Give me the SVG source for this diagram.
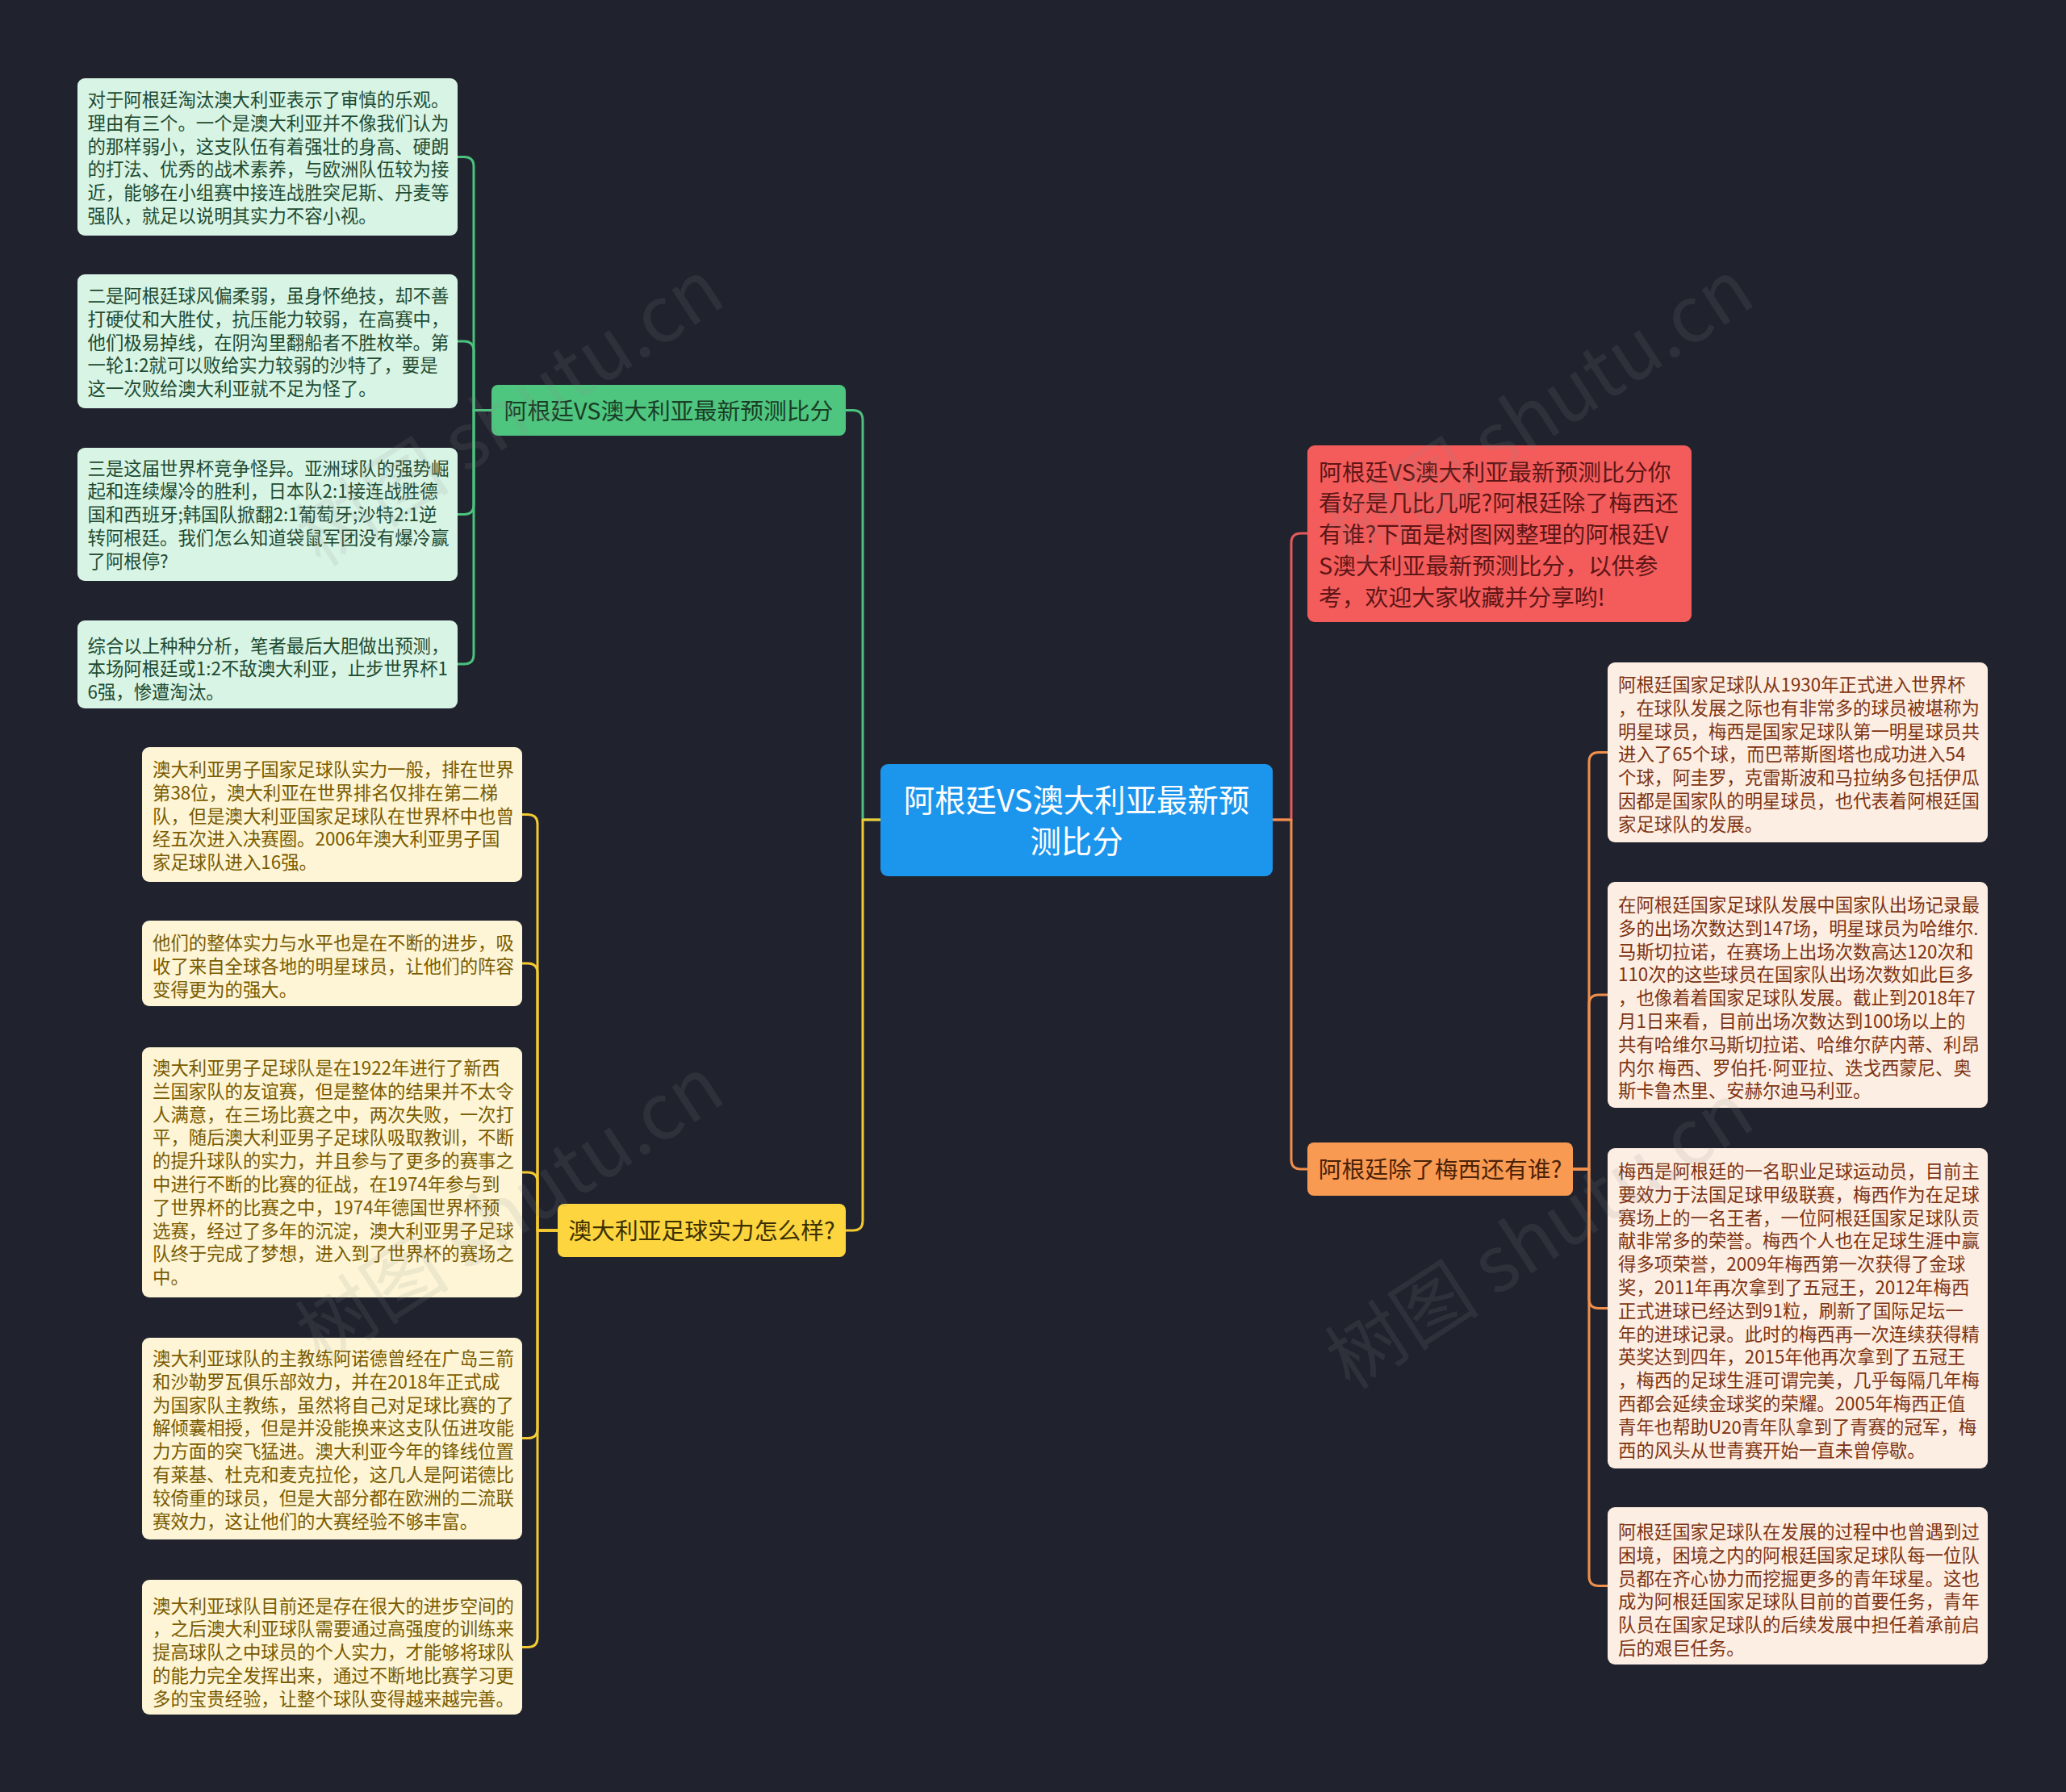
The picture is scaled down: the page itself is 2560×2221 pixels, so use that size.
<svg xmlns="http://www.w3.org/2000/svg" width="2560" height="2221" viewBox="0 0 2560 2221">
<style>
text{font-family:"Noto Sans CJK SC","Noto Sans",sans-serif}
.leaf{font-size:22.4px}
.g{fill:#d8f4e5}.gt{fill:#1e4b31}
.y{fill:#fdf5d6}.yt{fill:#7a5b00}
.o{fill:#fdeee3}.ot{fill:#7d3412}
.c{fill:none;stroke-width:3;stroke-linecap:round;stroke-linejoin:round}
.lbl{font-size:28.8px;text-anchor:middle}
.lat{font-family:"Liberation Sans",sans-serif}
.wm{font-size:96px;fill:#8c8c8c;opacity:0.13;font-family:"Noto Sans CJK SC","Noto Sans",sans-serif}
</style>
<rect width="2560" height="2221" fill="#20232e"/>

<g id="connectors">
<path class="c" stroke="#4cc27e" d="M1091 1016 H1069 V520.5 Q1069 508.5 1057 508.5 H1048"/>
<path class="c" stroke="#f5c932" d="M1091 1016 H1069 V1513 Q1069 1525 1057 1525 H1048"/>
<path class="c" stroke="#e35a5a" d="M1577 1016 H1600 V673 Q1600 661 1612 661 H1620"/>
<path class="c" stroke="#f0904c" d="M1577 1016 H1600 V1437 Q1600 1449 1612 1449 H1620"/>
<g stroke="#4cc27e">
<path class="c" d="M609 508.5 H587 V206.5 Q587 194.5 575 194.5 H567"/>
<path class="c" d="M609 508.5 H587 V435 Q587 423 575 423 H567"/>
<path class="c" d="M609 508.5 H587 V625.5 Q587 637.5 575 637.5 H567"/>
<path class="c" d="M609 508.5 H587 V811 Q587 823 575 823 H567"/>
</g>
<g stroke="#f5c932">
<path class="c" d="M691 1525 H666 V1021.5 Q666 1009.5 654 1009.5 H647"/>
<path class="c" d="M691 1525 H666 V1206 Q666 1194 654 1194 H647"/>
<path class="c" d="M691 1525 H666 V1465 Q666 1453 654 1453 H647"/>
<path class="c" d="M691 1525 H666 V1770.5 Q666 1782.5 654 1782.5 H647"/>
<path class="c" d="M691 1525 H666 V2029.5 Q666 2041.5 654 2041.5 H647"/>
</g>
<g stroke="#f0904c">
<path class="c" d="M1949 1449 H1969 V944.5 Q1969 932.5 1981 932.5 H1992"/>
<path class="c" d="M1949 1449 H1969 V1245 Q1969 1233 1981 1233 H1992"/>
<path class="c" d="M1949 1449 H1969 V1609.5 Q1969 1621.5 1981 1621.5 H1992"/>
<path class="c" d="M1949 1449 H1969 V1953.5 Q1969 1965.5 1981 1965.5 H1992"/>
</g>
</g>

<g id="center">
<rect x="1091" y="947" width="486" height="139" rx="9" fill="#1c95ed"/>
<text font-size="38.4" fill="#ffffff" text-anchor="middle"><tspan x="1334" y="1005.5">阿根廷VS澳大利亚最新预</tspan><tspan x="1334" y="1056.5">测比分</tspan></text>
</g>

<g id="intro">
<rect x="1620" y="552" width="476" height="219" rx="9" fill="#f45c5c"/>
<text font-size="28.8" fill="#5e1616"><tspan x="1634" y="595.5">阿根廷VS澳大利亚最新预测比分你</tspan><tspan x="1634" y="634.3">看好是几比几呢?阿根廷除了梅西还</tspan><tspan x="1634" y="673.1">有谁?下面是树图网整理的阿根廷V</tspan><tspan x="1634" y="711.9">S澳大利亚最新预测比分，以供参</tspan><tspan x="1634" y="750.7">考，欢迎大家收藏并分享哟!</tspan></text>
</g>

<g id="branch-green">
<rect x="609" y="477" width="439" height="63" rx="8" fill="#4ec67f"/>
<text class="lbl" x="828.5" y="519.5" fill="#1a3d26">阿根廷VS澳大利亚最新预测比分</text>
</g>
<g id="branch-yellow">
<rect x="691" y="1492" width="357" height="66" rx="8" fill="#fcd53f"/>
<text class="lbl" x="869.5" y="1536" fill="#3d3000">澳大利亚足球实力怎么样?</text>
</g>
<g id="branch-orange">
<rect x="1620" y="1416" width="329" height="66" rx="8" fill="#f99a52"/>
<text class="lbl" x="1784.5" y="1460" fill="#4a2208">阿根廷除了梅西还有谁?</text>
</g>

<g id="g1">
<rect class="g" x="96" y="97" width="471" height="195" rx="9"/>
<text class="leaf gt"><tspan x="108.5" y="132">对于阿根廷淘汰澳大利亚表示了审慎的乐观。</tspan><tspan x="108.5" y="160.8">理由有三个。一个是澳大利亚并不像我们认为</tspan><tspan x="108.5" y="189.6">的那样弱小，这支队伍有着强壮的身高、硬朗</tspan><tspan x="108.5" y="218.4">的打法、优秀的战术素养，与欧洲队伍较为接</tspan><tspan x="108.5" y="247.2">近，能够在小组赛中接连战胜突尼斯、丹麦等</tspan><tspan x="108.5" y="276">强队，就足以说明其实力不容小视。</tspan></text>
</g>
<g id="g2">
<rect class="g" x="96" y="340" width="471" height="166" rx="9"/>
<text class="leaf gt"><tspan x="108.5" y="375">二是阿根廷球风偏柔弱，虽身怀绝技，却不善</tspan><tspan x="108.5" y="403.8">打硬仗和大胜仗，抗压能力较弱，在高赛中，</tspan><tspan x="108.5" y="432.6">他们极易掉线，在阴沟里翻船者不胜枚举。第</tspan><tspan x="108.5" y="461.4">一轮1:2就可以败给实力较弱的沙特了，要是</tspan><tspan x="108.5" y="490.2">这一次败给澳大利亚就不足为怪了。</tspan></text>
</g>
<g id="g3">
<rect class="g" x="96" y="555" width="471" height="165" rx="9"/>
<text class="leaf gt"><tspan x="108.5" y="588.5">三是这届世界杯竞争怪异。亚洲球队的强势崛</tspan><tspan x="108.5" y="617.3">起和连续爆冷的胜利，日本队2:1接连战胜德</tspan><tspan x="108.5" y="646.1">国和西班牙;韩国队掀翻2:1葡萄牙;沙特2:1逆</tspan><tspan x="108.5" y="674.9">转阿根廷。我们怎么知道袋鼠军团没有爆冷赢</tspan><tspan x="108.5" y="703.7">了阿根停?</tspan></text>
</g>
<g id="g4">
<rect class="g" x="96" y="769" width="471" height="109" rx="9"/>
<text class="leaf gt"><tspan x="108.5" y="808.5">综合以上种种分析，笔者最后大胆做出预测，</tspan><tspan x="108.5" y="837.3">本场阿根廷或1:2不敌澳大利亚，止步世界杯1</tspan><tspan x="108.5" y="866.1">6强，惨遭淘汰。</tspan></text>
</g>

<g id="y1">
<rect class="y" x="176" y="926" width="471" height="167" rx="9"/>
<text class="leaf yt"><tspan x="189" y="962">澳大利亚男子国家足球队实力一般，排在世界</tspan><tspan x="189" y="990.8">第38位，澳大利亚在世界排名仅排在第二梯</tspan><tspan x="189" y="1019.6">队，但是澳大利亚国家足球队在世界杯中也曾</tspan><tspan x="189" y="1048.4">经五次进入决赛圈。2006年澳大利亚男子国</tspan><tspan x="189" y="1077.2">家足球队进入16强。</tspan></text>
</g>
<g id="y2">
<rect class="y" x="176" y="1141" width="471" height="106" rx="9"/>
<text class="leaf yt"><tspan x="189" y="1177">他们的整体实力与水平也是在不断的进步，吸</tspan><tspan x="189" y="1205.8">收了来自全球各地的明星球员，让他们的阵容</tspan><tspan x="189" y="1234.6">变得更为的强大。</tspan></text>
</g>
<g id="y3">
<rect class="y" x="176" y="1298" width="471" height="310" rx="9"/>
<text class="leaf yt"><tspan x="189" y="1332">澳大利亚男子足球队是在1922年进行了新西</tspan><tspan x="189" y="1360.8">兰国家队的友谊赛，但是整体的结果并不太令</tspan><tspan x="189" y="1389.6">人满意，在三场比赛之中，两次失败，一次打</tspan><tspan x="189" y="1418.4">平，随后澳大利亚男子足球队吸取教训，不断</tspan><tspan x="189" y="1447.2">的提升球队的实力，并且参与了更多的赛事之</tspan><tspan x="189" y="1476">中进行不断的比赛的征战，在1974年参与到</tspan><tspan x="189" y="1504.8">了世界杯的比赛之中，1974年德国世界杯预</tspan><tspan x="189" y="1533.6">选赛，经过了多年的沉淀，澳大利亚男子足球</tspan><tspan x="189" y="1562.4">队终于完成了梦想，进入到了世界杯的赛场之</tspan><tspan x="189" y="1591.2">中。</tspan></text>
</g>
<g id="y4">
<rect class="y" x="176" y="1658" width="471" height="250" rx="9"/>
<text class="leaf yt"><tspan x="189" y="1692">澳大利亚球队的主教练阿诺德曾经在广岛三箭</tspan><tspan x="189" y="1720.8">和沙勒罗瓦俱乐部效力，并在2018年正式成</tspan><tspan x="189" y="1749.6">为国家队主教练，虽然将自己对足球比赛的了</tspan><tspan x="189" y="1778.4">解倾囊相授，但是并没能换来这支队伍进攻能</tspan><tspan x="189" y="1807.2">力方面的突飞猛进。澳大利亚今年的锋线位置</tspan><tspan x="189" y="1836">有莱基、杜克和麦克拉伦，这几人是阿诺德比</tspan><tspan x="189" y="1864.8">较倚重的球员，但是大部分都在欧洲的二流联</tspan><tspan x="189" y="1893.6">赛效力，这让他们的大赛经验不够丰富。</tspan></text>
</g>
<g id="y5">
<rect class="y" x="176" y="1958" width="471" height="167" rx="9"/>
<text class="leaf yt"><tspan x="189" y="1998.5">澳大利亚球队目前还是存在很大的进步空间的</tspan><tspan x="189" y="2027.3">，之后澳大利亚球队需要通过高强度的训练来</tspan><tspan x="189" y="2056.1">提高球队之中球员的个人实力，才能够将球队</tspan><tspan x="189" y="2084.9">的能力完全发挥出来，通过不断地比赛学习更</tspan><tspan x="189" y="2113.7">多的宝贵经验，让整个球队变得越来越完善。</tspan></text>
</g>

<g id="o1">
<rect class="o" x="1992" y="821" width="471" height="223" rx="9"/>
<text class="leaf ot"><tspan x="2005" y="857">阿根廷国家足球队从1930年正式进入世界杯</tspan><tspan x="2005" y="885.8">，在球队发展之际也有非常多的球员被堪称为</tspan><tspan x="2005" y="914.6">明星球员，梅西是国家足球队第一明星球员共</tspan><tspan x="2005" y="943.4">进入了65个球，而巴蒂斯图塔也成功进入54</tspan><tspan x="2005" y="972.2">个球，阿圭罗，克雷斯波和马拉纳多包括伊瓜</tspan><tspan x="2005" y="1001">因都是国家队的明星球员，也代表着阿根廷国</tspan><tspan x="2005" y="1029.8">家足球队的发展。</tspan></text>
</g>
<g id="o2">
<rect class="o" x="1992" y="1093" width="471" height="280" rx="9"/>
<text class="leaf ot"><tspan x="2005" y="1130">在阿根廷国家足球队发展中国家队出场记录最</tspan><tspan x="2005" y="1158.8">多的出场次数达到147场，明星球员为哈维尔.</tspan><tspan x="2005" y="1187.6">马斯切拉诺，在赛场上出场次数高达120次和</tspan><tspan x="2005" y="1216.4">110次的这些球员在国家队出场次数如此巨多</tspan><tspan x="2005" y="1245.2">，也像着着国家足球队发展。截止到2018年7</tspan><tspan x="2005" y="1274">月1日来看，目前出场次数达到100场以上的</tspan><tspan x="2005" y="1302.8">共有哈维尔马斯切拉诺、哈维尔萨内蒂、利昂</tspan><tspan x="2005" y="1331.6">内尔 梅西、罗伯托<tspan class="lat">·</tspan>阿亚拉、迭戈西蒙尼、奥</tspan><tspan x="2005" y="1360.4">斯卡鲁杰里、安赫尔迪马利亚。</tspan></text>
</g>
<g id="o3">
<rect class="o" x="1992" y="1423" width="471" height="397" rx="9"/>
<text class="leaf ot"><tspan x="2005" y="1460">梅西是阿根廷的一名职业足球运动员，目前主</tspan><tspan x="2005" y="1488.8">要效力于法国足球甲级联赛，梅西作为在足球</tspan><tspan x="2005" y="1517.6">赛场上的一名王者，一位阿根廷国家足球队贡</tspan><tspan x="2005" y="1546.4">献非常多的荣誉。梅西个人也在足球生涯中赢</tspan><tspan x="2005" y="1575.2">得多项荣誉，2009年梅西第一次获得了金球</tspan><tspan x="2005" y="1604">奖，2011年再次拿到了五冠王，2012年梅西</tspan><tspan x="2005" y="1632.8">正式进球已经达到91粒，刷新了国际足坛一</tspan><tspan x="2005" y="1661.6">年的进球记录。此时的梅西再一次连续获得精</tspan><tspan x="2005" y="1690.4">英奖达到四年，2015年他再次拿到了五冠王</tspan><tspan x="2005" y="1719.2">，梅西的足球生涯可谓完美，几乎每隔几年梅</tspan><tspan x="2005" y="1748">西都会延续金球奖的荣耀。2005年梅西正值</tspan><tspan x="2005" y="1776.8">青年也帮助U20青年队拿到了青赛的冠军，梅</tspan><tspan x="2005" y="1805.6">西的风头从世青赛开始一直未曾停歇。</tspan></text>
</g>
<g id="o4">
<rect class="o" x="1992" y="1868" width="471" height="195" rx="9"/>
<text class="leaf ot"><tspan x="2005" y="1907">阿根廷国家足球队在发展的过程中也曾遇到过</tspan><tspan x="2005" y="1935.8">困境，困境之内的阿根廷国家足球队每一位队</tspan><tspan x="2005" y="1964.6">员都在齐心协力而挖掘更多的青年球星。这也</tspan><tspan x="2005" y="1993.4">成为阿根廷国家足球队目前的首要任务，青年</tspan><tspan x="2005" y="2022.2">队员在国家足球队的后续发展中担任着承前启</tspan><tspan x="2005" y="2051">后的艰巨任务。</tspan></text>
</g>

<g id="watermarks">
<text class="wm" text-anchor="middle" transform="translate(650 540) rotate(-33)">树图 shutu.cn</text>
<text class="wm" text-anchor="middle" transform="translate(650 1528) rotate(-33)">树图 shutu.cn</text>
<text class="wm" text-anchor="middle" transform="translate(1926 540) rotate(-33)">树图 shutu.cn</text>
<text class="wm" text-anchor="middle" transform="translate(1926 1560) rotate(-33)">树图 shutu.cn</text>
</g>
</svg>
